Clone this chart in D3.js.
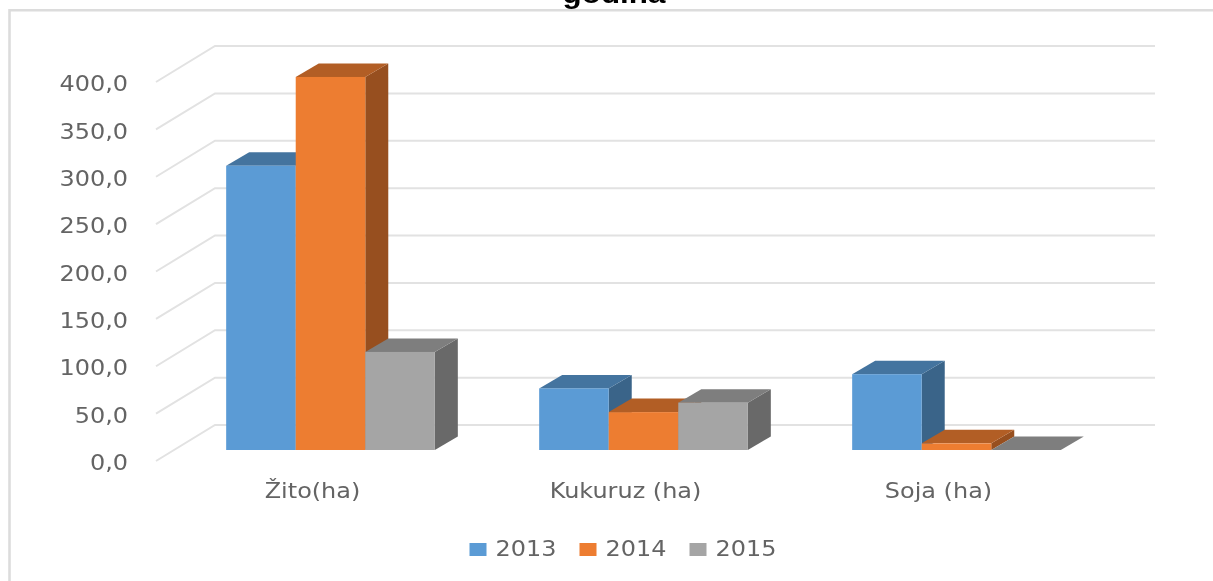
<!DOCTYPE html>
<html>
<head>
<meta charset="utf-8">
<script src="https://cdn.jsdelivr.net/npm/d3@7"></script>
<style>
html,body{margin:0;padding:0;background:#fff;overflow:hidden}
svg{display:block;filter:blur(0.45px)}
text{font-family:"DejaVu Sans",sans-serif;fill:#646464;font-size:21px}
</style>
</head>
<body>
<svg id="c" width="1213" height="581"></svg>
<script>
const categories = ["Žito(ha)", "Kukuruz (ha)", "Soja (ha)"];
const years = ["2013", "2014", "2015"];
const values2013 = [300, 65, 80];
const values2014 = [393.7, 40, 7];
const values2015 = [103.5, 50, 0];
const yTicks = [0, 50, 100, 150, 200, 250, 300, 350, 400];
const titleText = "godina";
const seriesValues = [values2013, values2014, values2015];
const faceColors = ["#5B9BD5", "#ED7D31", "#A5A5A5"];
const topColors = ["#44749F", "#B25E25", "#7E7E7E"];
const sideColors = ["#3A6489", "#974F1F", "#696969"];

const svg = d3.select("#c");
const stretch = (sel, k) => sel.each(function () {
  this.setAttribute("textLength", this.getComputedTextLength() * k);
  this.setAttribute("lengthAdjust", "spacingAndGlyphs");
});

// frame
const frame = svg.append("g").attr("fill", "none").attr("stroke", "#dcdcdc").attr("stroke-width", 2.6);
frame.append("path").attr("d", "M9.5 581V10.3H1213");

// scales
const yFront = d3.scaleLinear().domain([0, 400]).range([461, 82]);
const yBack = d3.scaleLinear().domain([0, 400]).range([425, 46]);
const yBar = d3.scaleLinear().domain([0, 400]).range([450, 71]);
const x0 = d3.scaleBand().domain(categories).range([174, 1113]).paddingInner(1 / 3).paddingOuter(1 / 6);
const x1 = d3.scaleBand().domain(years).range([0, x0.bandwidth()]);
const depthX = 23, depthY = -13.5;
const wallLeft = 156, wallBack = 215, wallRight = 1155, labelShift = -18;

// gridlines (side wall + back wall)
svg.append("g").selectAll("path").data(yTicks).join("path")
  .attr("fill", "none").attr("stroke", "#e2e2e2").attr("stroke-width", 2)
  .attr("d", d => d3.line()([[wallLeft, yFront(d)], [wallBack, yBack(d)], [wallRight, yBack(d)]]));

// y axis labels
const yAxis = d3.axisLeft(yFront).tickValues(yTicks).tickSize(0).tickPadding(0)
  .tickFormat(d => d3.format(".1f")(d).replace(".", ","));
const gy = svg.append("g").attr("transform", "translate(128,1.5)").call(yAxis);
gy.select(".domain").remove();
gy.selectAll("text").style("font-size", "21px").style("font-family", '"DejaVu Sans",sans-serif').attr("fill", "#646464").attr("dy", "0.34em").call(stretch, 1.14);

// bars
categories.forEach((cat, ci) => {
  const g = svg.append("g");
  years.forEach((yr, si) => {
    const v = seriesValues[si][ci];
    const l = x0(cat) + x1(yr), r = l + x1.bandwidth();
    const t = yBar(v), b = yBar(0);
    g.append("polygon").attr("fill", sideColors[si])
      .attr("points", [[r, t], [r + depthX, t + depthY], [r + depthX, b + depthY], [r, b]].join(" "));
    g.append("polygon").attr("fill", topColors[si])
      .attr("points", [[l, t], [l + depthX, t + depthY], [r + depthX, t + depthY], [r, t]].join(" "));
    g.append("rect").attr("fill", faceColors[si])
      .attr("x", l).attr("y", t).attr("width", r - l).attr("height", b - t);
  });
});

// category labels
svg.append("g").selectAll("text").data(categories).join("text")
  .attr("x", d => x0(d) + x0.bandwidth() / 2 + labelShift)
  .attr("y", 498).attr("text-anchor", "middle").text(d => d).call(stretch, 1.14);

// legend
const legendX = d3.scalePoint().domain(years).range([469.5, 689.5]);
const lg = svg.append("g").selectAll("g").data(years).join("g")
  .attr("transform", d => `translate(${legendX(d)},0)`);
lg.append("rect").attr("y", 543).attr("width", 17).attr("height", 13).attr("fill", (d, i) => faceColors[i]);
lg.append("text").attr("x", 26).attr("y", 556).text(d => d).call(stretch, 1.14);

// clipped title
svg.append("text").attr("x", 614).attr("y", 3).attr("text-anchor", "middle")
  .style("font-family", '"Liberation Sans",sans-serif').style("font-weight", "bold").style("font-size", "28px").style("fill", "#000")
  .text(titleText).call(stretch, 1.12);
</script>
</body>
</html>
